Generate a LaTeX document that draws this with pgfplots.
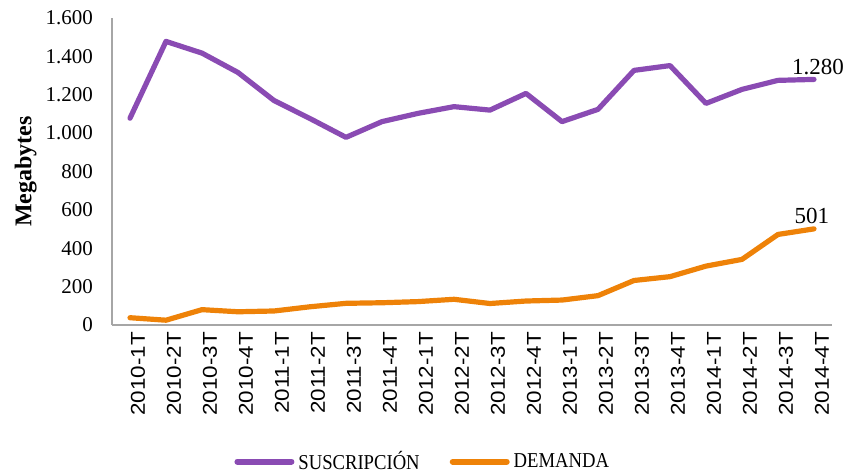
\documentclass[border=0pt]{standalone}
\usepackage{fontspec}
\setmainfont{Liberation Serif}
\setsansfont[FakeStretch=1.12]{Liberation Sans}
\newfontfamily\legfont[FakeStretch=0.88]{Liberation Serif}
\usepackage{pgfplots}
\pgfplotsset{compat=1.18}
\definecolor{cpur}{HTML}{8A4BB3}
\definecolor{cora}{HTML}{EE8208}
\definecolor{caxis}{HTML}{A6A6A6}
\begin{document}
\begin{tikzpicture}
\useasboundingbox (-56pt,-73.5pt) rectangle (367.5pt,162.5pt);
\begin{axis}[
  at={(0,0)}, anchor=south west,
  scale only axis, width=360pt, height=153.5pt,
  xmin=-0.5, xmax=19.5, ymin=0, ymax=1600,
  axis x line*=bottom, axis y line*=left,
  axis line style={caxis, line width=0.75pt},
  x axis line style={-}, y axis line style={-},
  major tick length=0pt,
  xtick={0,...,19},
  xticklabels={2010-1T,2010-2T,2010-3T,2010-4T,2011-1T,2011-2T,2011-3T,2011-4T,2012-1T,2012-2T,2012-3T,2012-4T,2013-1T,2013-2T,2013-3T,2013-4T,2014-1T,2014-2T,2014-3T,2014-4T},
  xticklabel style={rotate=90, anchor=east, font=\sffamily\fontsize{10}{12}\selectfont, yshift=-4pt},
  ytick={0,200,...,1600},
  yticklabel style={font=\fontsize{10.5}{12}\selectfont, xshift=-6pt},
  /pgf/number format/.cd, 1000 sep={.}, assume math mode=true, /pgfplots/.cd,
  ylabel={\textbf{Megabytes}},
  ylabel style={at={(axis description cs:-0.12,0.5)}, anchor=center, font=\fontsize{12}{14}\selectfont},
  legend columns=2,
  legend style={at={(axis description cs:0.433,-0.445)}, anchor=center, draw=none, fill=none,
    font=\legfont\fontsize{10.6}{12}\selectfont,
    /tikz/every even column/.append style={column sep=13pt},
    /tikz/every odd column/.append style={inner xsep=1pt}},
  legend image code/.code={\draw[#1, line width=3pt, line cap=round] (0pt,0pt) -- (27pt,0pt);},
  clip=false,
]
\addplot[cpur, line width=2.6pt, line join=round, line cap=round] coordinates {
(0,1078) (1,1478) (2,1417) (3,1316) (4,1170) (5,1076) (6,978) (7,1060) (8,1103) (9,1138)
(10,1120) (11,1207) (12,1060) (13,1124) (14,1327) (15,1352) (16,1155) (17,1228) (18,1275) (19,1280)};
\addlegendentry{SUSCRIPCIÓN}
\addplot[cora, line width=2.6pt, line join=round, line cap=round] coordinates {
(0,38) (1,25) (2,80) (3,69) (4,73) (5,95) (6,113) (7,116) (8,122) (9,134)
(10,112) (11,125) (12,130) (13,153) (14,232) (15,252) (16,307) (17,342) (18,472) (19,501)};
\addlegendentry{DEMANDA}
\addplot[draw=none, forget plot, nodes near coords={1.280},
  every node near coord/.append style={anchor=south, font=\fontsize{11.5}{13}\selectfont, xshift=2pt, yshift=-1pt}]
  coordinates {(19,1280)};
\addplot[draw=none, forget plot, nodes near coords={501},
  every node near coord/.append style={anchor=south, font=\fontsize{11.5}{13}\selectfont, xshift=-1pt, yshift=-1pt}]
  coordinates {(19,501)};
\end{axis}
\end{tikzpicture}
\end{document}
